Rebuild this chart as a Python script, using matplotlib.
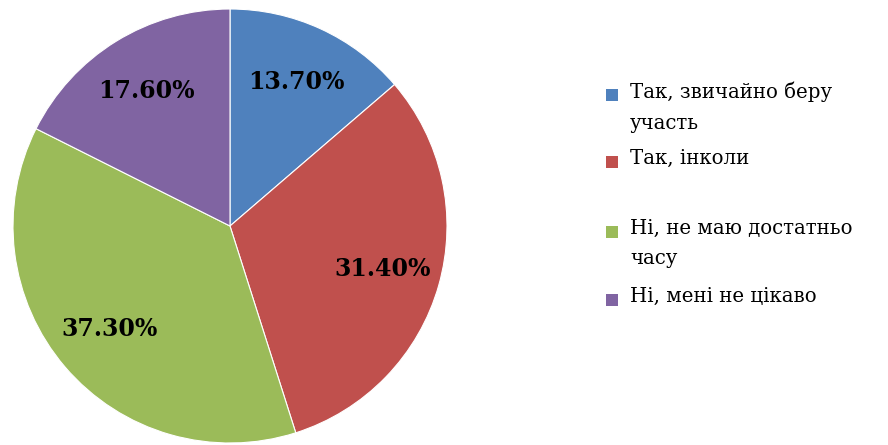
import matplotlib.pyplot as plt
from matplotlib.patches import Rectangle

labels = ['Так, звичайно беру\nучасть', 'Так, інколи', 'Ні, не маю достатньо\nчасу', 'Ні, мені не цікаво']
values = [13.7, 31.4, 37.3, 17.6]
colors = ['#4F81BD', '#C0504D', '#9BBB59', '#8064A2']

plt.rcParams['font.family'] = ['DejaVu Serif']

fig = plt.figure(figsize=(8.88, 4.45), dpi=100)
ax = fig.add_axes([13 / 888, 2 / 445, 434 / 888, 434 / 445])

wedges, texts, autotexts = ax.pie(values, colors=colors, startangle=90, counterclock=False,
                                  autopct='%.2f%%', pctdistance=0.73,
                                  wedgeprops=dict(edgecolor='white', linewidth=0.8))
for t in autotexts:
    t.set_fontsize(17)
    t.set_fontweight('bold')
    t.set_color('black')
ax.set_aspect('equal')
ax.set_xlim(-1, 1)
ax.set_ylim(-1, 1)

# legend drawn by hand to keep Excel's uneven spacing
legend_y = [95, 162, 232, 300]
for lab, col, y in zip(labels, colors, legend_y):
    fig.patches.append(Rectangle((606 / 888, 1 - (y + 6) / 445), 12 / 888, 12 / 445,
                                 transform=fig.transFigure, facecolor=col, edgecolor='none'))
    fig.text(630 / 888, 1 - (y - 13) / 445, lab, fontsize=14.2, va='top', ha='left',
             linespacing=1.75)

fig.savefig('out.png', dpi=100)
